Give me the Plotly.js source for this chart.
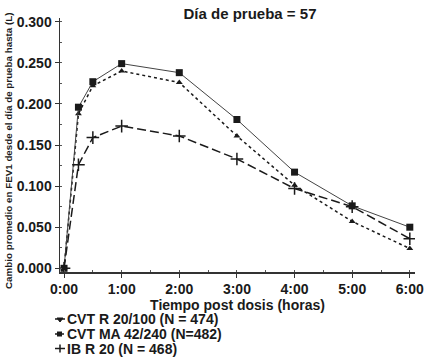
<!DOCTYPE html>
<html>
<head>
<meta charset="utf-8">
<script src="https://cdn.plot.ly/plotly-3.0.1.min.js"></script>
<style>html,body{margin:0;padding:0;background:#fff;}#chart{width:425px;height:357px;}</style>
</head>
<body>
<div id="chart"></div>
<script>
const hours = [0, 0.25, 0.5, 1, 2, 3, 4, 5, 6];
const tickVals = [0, 1, 2, 3, 4, 5, 6];
const tickLabels = ["0:00", "1:00", "2:00", "3:00", "4:00", "5:00", "6:00"];
const cvtR = [0, 0.188, 0.222, 0.240, 0.226, 0.161, 0.101, 0.057, 0.024];
const cvtMA = [0, 0.196, 0.227, 0.249, 0.238, 0.181, 0.117, 0.076, 0.050];
const ibR = [0, 0.126, 0.159, 0.173, 0.161, 0.133, 0.097, 0.075, 0.036];
const names = ["CVT R 20/100 (N = 474)", "CVT MA 42/240 (N=482)", "IB R 20 (N = 468)"];
const yTitle = "Cambio promedio en FEV1 desde el día de prueba hasta (L)";

const FONT = "Liberation Sans, Arial, sans-serif";
const ink = "#1a1a1a";

// plot area in pixels
const L = 60, R = 10, T = 18, B = 85, W = 425, H = 357;
const pw = W - L - R, ph = H - T - B;
const px = v => (v - L) / pw;
const py = v => (H - B - v) / ph;

const traces = [
  {x: hours, y: cvtR, name: names[0], mode: "lines+markers", type: "scatter",
   line: {color: ink, width: 1.5, dash: "3px,3px"},
   marker: {symbol: "triangle-up", size: 6, color: ink}},
  {x: hours, y: cvtMA, name: names[1], mode: "lines+markers", type: "scatter",
   line: {color: "#444", width: 1}, marker: {symbol: "square", size: 7, color: ink}},
  {x: hours, y: ibR, name: names[2], mode: "lines+markers", type: "scatter",
   line: {color: ink, width: 1.5, dash: "9px,4px"},
   marker: {symbol: "cross-thin", size: 9, line: {color: ink, width: 1.5}}}
];

// legend (drawn manually for compact row spacing)
const legRows = [319, 334, 348.5];
const annotations = names.map((n, i) => ({
  text: n, xref: "paper", yref: "paper", x: px(65), y: py(legRows[i]),
  xanchor: "left", yanchor: "middle", showarrow: false,
  font: {family: FONT, size: 14, weight: "bold", color: ink}
}));
annotations.push({
  text: yTitle, xref: "paper", yref: "paper", x: px(8), y: py(151),
  xanchor: "center", yanchor: "middle", textangle: -90, showarrow: false,
  font: {family: FONT, size: 9.8, weight: "bold", color: ink}
});
const shapes = [];
// row 1: short line + triangle
shapes.push({type: "line", xref: "paper", yref: "paper", x0: px(55), x1: px(65), y0: py(legRows[0]), y1: py(legRows[0]), line: {color: ink, width: 1.5}});
shapes.push({type: "path", xref: "paper", yref: "paper",
  path: `M ${px(57)} ${py(legRows[0]-1)} L ${px(63)} ${py(legRows[0]-1)} L ${px(60)} ${py(legRows[0]+3)} Z`,
  fillcolor: ink, line: {color: ink, width: 1}});
// row 2: line + square
shapes.push({type: "line", xref: "paper", yref: "paper", x0: px(55), x1: px(64), y0: py(legRows[1]), y1: py(legRows[1]), line: {color: ink, width: 1.5}});
shapes.push({type: "rect", xref: "paper", yref: "paper", x0: px(57), x1: px(62), y0: py(legRows[1]-2.5), y1: py(legRows[1]+2.5), fillcolor: ink, line: {color: ink, width: 0}});
// row 3: cross
shapes.push({type: "line", xref: "paper", yref: "paper", x0: px(55), x1: px(65), y0: py(legRows[2]), y1: py(legRows[2]), line: {color: ink, width: 1.5}});
shapes.push({type: "line", xref: "paper", yref: "paper", x0: px(60), x1: px(60), y0: py(legRows[2]-4), y1: py(legRows[2]+4), line: {color: ink, width: 1.5}});

const layout = {
  width: W, height: H,
  margin: {l: L, r: R, t: T, b: B, autoexpand: false},
  paper_bgcolor: "#fff", plot_bgcolor: "#fff",
  font: {family: FONT, color: ink},
  title: {text: "Día de prueba = 57", font: {family: FONT, size: 15, weight: "bold", color: ink},
          x: px(250), xref: "paper", xanchor: "center", y: 1 - 14 / H, yanchor: "middle"},
  xaxis: {
    range: [-0.07, 6.09], tickvals: tickVals, ticktext: tickLabels,
    showgrid: false, zeroline: false, showline: true, linecolor: "#333", linewidth: 1.5,
    ticks: "outside", ticklen: 4, tickcolor: "#333",
    minor: {dtick: 0.5, ticks: "inside", ticklen: 2, tickcolor: "#555", showgrid: false},
    tickfont: {family: FONT, size: 14, weight: "bold", color: ink},
    title: {text: "Tiempo post dosis (horas)", standoff: 2,
            font: {family: FONT, size: 14, weight: "bold", color: ink}}
  },
  yaxis: {
    range: [-0.0045, 0.3045], tickvals: [0, 0.05, 0.1, 0.15, 0.2, 0.25, 0.3],
    tickformat: ".3f",
    showgrid: false, zeroline: false, showline: true, linecolor: "#333", linewidth: 1.5,
    ticks: "outside", ticklen: 4, tickcolor: "#333",
    minor: {dtick: 0.025, ticks: "inside", ticklen: 2, tickcolor: "#555", showgrid: false},
    tickfont: {family: FONT, size: 14, weight: "bold", color: ink}
  },
  showlegend: false,
  annotations: annotations,
  shapes: shapes
};

Plotly.newPlot("chart", traces, layout, {displayModeBar: false, staticPlot: true});
</script>
</body>
</html>
